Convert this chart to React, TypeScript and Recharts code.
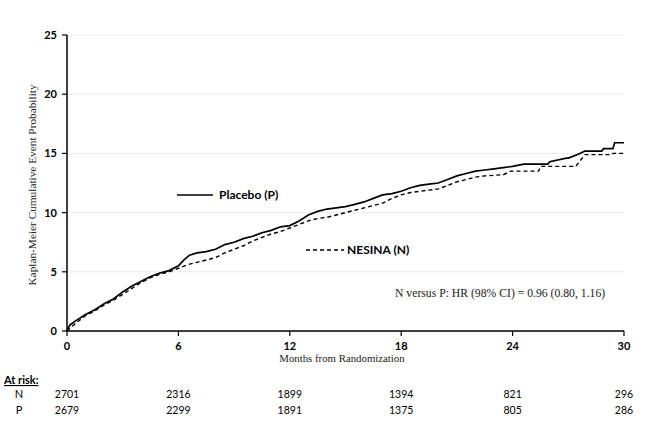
import { LineChart, Line, XAxis, YAxis, CartesianGrid } from 'recharts';

const placeboMonths = [0, 0.15, 0.5, 1, 1.5, 2, 2.5, 3, 3.5, 4, 4.5, 5, 5.5, 6, 6.3, 6.6, 7, 7.5, 8, 8.5, 9, 9.5, 10, 10.5, 11, 11.5, 12, 12.5, 13, 13.5, 14, 14.5, 15, 15.5, 16, 16.5, 17, 17.5, 18, 18.5, 19, 19.5, 20, 20.5, 21, 21.5, 22, 22.5, 23, 23.5, 24, 24.6, 25.9, 26.0, 26.9, 27.0, 27.5, 27.9, 28.8, 28.9, 29.4, 29.5, 30];
const placeboValues = [0, 0.5, 0.9, 1.4, 1.8, 2.3, 2.7, 3.3, 3.8, 4.2, 4.6, 4.9, 5.1, 5.5, 6.0, 6.4, 6.6, 6.7, 6.9, 7.3, 7.5, 7.8, 8.0, 8.3, 8.5, 8.8, 8.9, 9.3, 9.8, 10.1, 10.3, 10.4, 10.5, 10.7, 10.9, 11.2, 11.5, 11.6, 11.8, 12.1, 12.3, 12.4, 12.5, 12.8, 13.1, 13.3, 13.5, 13.6, 13.7, 13.8, 13.9, 14.1, 14.1, 14.3, 14.6, 14.6, 14.9, 15.2, 15.2, 15.4, 15.4, 15.9, 15.9];

const nesinaMonths = [0, 0.2, 0.5, 1, 1.5, 2, 2.5, 3, 3.5, 4, 4.5, 5, 5.5, 6, 6.5, 7, 7.5, 8, 8.5, 9, 9.5, 10, 10.5, 11, 11.5, 12, 12.5, 13, 13.5, 14, 14.5, 15, 15.5, 16, 16.5, 17, 17.5, 18, 18.5, 19, 19.5, 20, 20.5, 21, 21.5, 22, 22.5, 23.5, 23.9, 25.4, 25.5, 27.4, 27.9, 29.3, 29.4, 30];
const nesinaValues = [0, 0.3, 0.7, 1.3, 1.7, 2.2, 2.6, 3.1, 3.6, 4.1, 4.5, 4.8, 5.0, 5.3, 5.6, 5.8, 6.0, 6.2, 6.6, 6.9, 7.2, 7.6, 7.9, 8.2, 8.4, 8.7, 9.0, 9.3, 9.5, 9.6, 9.8, 10.0, 10.2, 10.4, 10.6, 10.8, 11.2, 11.5, 11.7, 11.8, 11.9, 12.0, 12.3, 12.6, 12.8, 13.0, 13.1, 13.2, 13.5, 13.5, 13.9, 13.9, 14.9, 14.9, 15.0, 15.0];

const xTicks = [0, 6, 12, 18, 24, 30];
const yTicks = [0, 5, 10, 15, 20, 25];
const atRiskN = [2701, 2316, 1899, 1394, 821, 296];
const atRiskP = [2679, 2299, 1891, 1375, 805, 286];

const placeboData = placeboMonths.map((m, i) => ({ month: m, value: placeboValues[i] }));
const nesinaData = nesinaMonths.map((m, i) => ({ month: m, value: nesinaValues[i] }));

const W = 649;
const H = 428;
const PLOT_LEFT = 67;
const PLOT_RIGHT = 624;
const PLOT_TOP = 35;
const PLOT_BOTTOM = 331;

const sans = 'Lato, "Open Sans", sans-serif';
const serif = '"Liberation Serif", "DejaVu Serif", serif';

const tickStyle = { fill: '#000', fontSize: 11, fontWeight: 700, fontFamily: sans };

// x position of a month, for the at-risk numbers under the axis
const monthX = (m: number) => PLOT_LEFT + (m / 30) * (PLOT_RIGHT - PLOT_LEFT);

export default function App() {
  return (
    <div style={{ position: 'relative', width: W, height: H, background: '#fff' }}>
      <style>{'body{margin:0}'}</style>
      <LineChart
        width={W}
        height={H}
        margin={{ top: PLOT_TOP, right: W - PLOT_RIGHT, left: 0, bottom: H - PLOT_BOTTOM - 30 }}
      >
        <CartesianGrid vertical={false} stroke="#ececec" />
        <XAxis
          dataKey="month"
          type="number"
          domain={[0, 30]}
          ticks={xTicks}
          allowDuplicatedCategory={false}
          tick={tickStyle}
          tickSize={5}
          tickMargin={6}
          axisLine={{ stroke: '#000', strokeWidth: 1.5 }}
          tickLine={{ stroke: '#000', strokeWidth: 1.2 }}
          height={30}
        />
        <YAxis
          type="number"
          domain={[0, 25]}
          ticks={yTicks}
          tick={tickStyle}
          tickSize={5}
          tickMargin={5}
          width={PLOT_LEFT}
          axisLine={{ stroke: '#000', strokeWidth: 1.5 }}
          tickLine={{ stroke: '#000', strokeWidth: 1.2 }}
        />
        <Line
          data={nesinaData}
          dataKey="value"
          type="linear"
          stroke="#000"
          strokeWidth={1.4}
          strokeDasharray="4 3"
          dot={false}
          isAnimationActive={false}
        />
        <Line
          data={placeboData}
          dataKey="value"
          type="linear"
          stroke="#000"
          strokeWidth={1.7}
          dot={false}
          isAnimationActive={false}
        />
      </LineChart>
      <svg width={W} height={H} style={{ position: 'absolute', left: 0, top: 0, pointerEvents: 'none' }}>
        <text
          x={33}
          y={185}
          transform="rotate(-90 33 185)"
          textAnchor="middle"
          dominantBaseline="middle"
          fontFamily={serif}
          fontSize={11.3}
          fill="#222"
        >
          Kaplan-Meier Cumulative Event Probability
        </text>
        <text x={342} y={362} textAnchor="middle" fontFamily={serif} fontSize={10.8} fill="#222">
          Months from Randomization
        </text>
        <line x1={177} x2={213} y1={195} y2={195} stroke="#000" strokeWidth={1.7} />
        <text x={219} y={199} fontFamily={sans} fontSize={12} fontWeight={700} fill="#000">
          Placebo (P)
        </text>
        <line x1={306} x2={344} y1={250} y2={250} stroke="#000" strokeWidth={1.4} strokeDasharray="4 3" />
        <text x={347} y={254} fontFamily={sans} fontSize={12} fontWeight={700} fill="#000">
          NESINA (N)
        </text>
        <text x={395} y={297} fontFamily={serif} fontSize={11.7} fill="#222">
          N versus P: HR (98% CI) = 0.96 (0.80, 1.16)
        </text>
        <text x={4} y={384} fontFamily={sans} fontSize={11} fontWeight={700} fill="#000" textDecoration="underline">
          At risk:
        </text>
        <text x={19} y={398} textAnchor="middle" fontFamily={sans} fontSize={11} fill="#000">N</text>
        <text x={19} y={414} textAnchor="middle" fontFamily={sans} fontSize={11} fill="#000">P</text>
        {atRiskN.map((n, i) => (
          <text key={'n' + i} x={monthX(xTicks[i])} y={398} textAnchor="middle" fontFamily={sans} fontSize={10.5} fill="#000">
            {n}
          </text>
        ))}
        {atRiskP.map((n, i) => (
          <text key={'p' + i} x={monthX(xTicks[i])} y={414} textAnchor="middle" fontFamily={sans} fontSize={10.5} fill="#000">
            {n}
          </text>
        ))}
      </svg>
    </div>
  );
}
